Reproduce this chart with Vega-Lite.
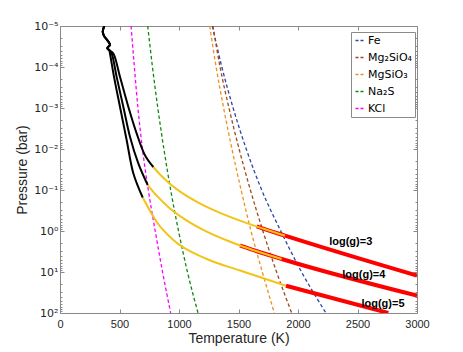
{
  "$schema": "https://vega.github.io/schema/vega-lite/v6.json",
  "width": 357,
  "height": 287,
  "autosize": {"type": "none"},
  "padding": {"left": 60, "top": 26, "right": 46, "bottom": 39},
  "background": "white",
  "config": {
    "font": "Liberation Sans",
    "view": {"stroke": null},
    "axis": {"grid": false, "domainColor": "#8a8a8a", "tickColor": "#8a8a8a", "labelColor": "#262626", "titleColor": "#262626", "labelFont": "Liberation Sans", "titleFont": "Liberation Sans", "titleFontWeight": "normal"}
  },
  "datasets": {
    "cond": [
      {"species": "Fe", "T": 1280, "P": 1e-5}, {"species": "Fe", "T": 1360, "P": 1e-4}, {"species": "Fe", "T": 1455, "P": 1e-3}, {"species": "Fe", "T": 1565, "P": 1e-2}, {"species": "Fe", "T": 1695, "P": 0.1}, {"species": "Fe", "T": 1855, "P": 1}, {"species": "Fe", "T": 2030, "P": 10}, {"species": "Fe", "T": 2235, "P": 100},
      {"species": "Mg₂SiO₄", "T": 1285, "P": 1e-5}, {"species": "Mg₂SiO₄", "T": 1345, "P": 1e-4}, {"species": "Mg₂SiO₄", "T": 1420, "P": 1e-3}, {"species": "Mg₂SiO₄", "T": 1505, "P": 1e-2}, {"species": "Mg₂SiO₄", "T": 1600, "P": 0.1}, {"species": "Mg₂SiO₄", "T": 1705, "P": 1}, {"species": "Mg₂SiO₄", "T": 1820, "P": 10}, {"species": "Mg₂SiO₄", "T": 1947, "P": 100},
      {"species": "MgSiO₃", "T": 1258, "P": 1e-5}, {"species": "MgSiO₃", "T": 1312, "P": 1e-4}, {"species": "MgSiO₃", "T": 1375, "P": 1e-3}, {"species": "MgSiO₃", "T": 1445, "P": 1e-2}, {"species": "MgSiO₃", "T": 1522, "P": 0.1}, {"species": "MgSiO₃", "T": 1605, "P": 1}, {"species": "MgSiO₃", "T": 1700, "P": 10}, {"species": "MgSiO₃", "T": 1801, "P": 100},
      {"species": "Na₂S", "T": 737, "P": 1e-5}, {"species": "Na₂S", "T": 777, "P": 1e-4}, {"species": "Na₂S", "T": 822, "P": 1e-3}, {"species": "Na₂S", "T": 873, "P": 1e-2}, {"species": "Na₂S", "T": 930, "P": 0.1}, {"species": "Na₂S", "T": 996, "P": 1}, {"species": "Na₂S", "T": 1071, "P": 10}, {"species": "Na₂S", "T": 1160, "P": 100},
      {"species": "KCl", "T": 597, "P": 1e-5}, {"species": "KCl", "T": 625, "P": 1e-4}, {"species": "KCl", "T": 655, "P": 1e-3}, {"species": "KCl", "T": 693, "P": 1e-2}, {"species": "KCl", "T": 742, "P": 0.1}, {"species": "KCl", "T": 800, "P": 1}, {"species": "KCl", "T": 862, "P": 10}, {"species": "KCl", "T": 930, "P": 100}
    ],
    "prof": [
      {"g": "3", "seg": "black", "i": 0, "T": 372, "P": 1e-5}, {"g": "3", "seg": "black", "i": 1, "T": 359, "P": 1.38e-5}, {"g": "3", "seg": "black", "i": 2, "T": 370, "P": 1.738e-5}, {"g": "3", "seg": "black", "i": 3, "T": 406, "P": 2.399e-5}, {"g": "3", "seg": "black", "i": 4, "T": 420, "P": 2.884e-5}, {"g": "3", "seg": "black", "i": 5, "T": 398, "P": 3.467e-5}, {"g": "3", "seg": "black", "i": 6, "T": 414, "P": 3.89e-5},
      {"g": "3", "seg": "black", "i": 7, "T": 448, "P": 4.677e-5}, {"g": "3", "seg": "black", "i": 8, "T": 504, "P": 1.738e-4}, {"g": "3", "seg": "black", "i": 9, "T": 574, "P": 9.333e-4}, {"g": "3", "seg": "black", "i": 10, "T": 644, "P": 4.169e-3}, {"g": "3", "seg": "black", "i": 11, "T": 714, "P": 0.01413}, {"g": "3", "seg": "black", "i": 12, "T": 784, "P": 0.02748},
      {"g": "4", "seg": "black", "i": 0, "T": 372, "P": 1e-5}, {"g": "4", "seg": "black", "i": 1, "T": 359, "P": 1.38e-5}, {"g": "4", "seg": "black", "i": 2, "T": 370, "P": 1.738e-5}, {"g": "4", "seg": "black", "i": 3, "T": 406, "P": 2.399e-5}, {"g": "4", "seg": "black", "i": 4, "T": 420, "P": 2.884e-5}, {"g": "4", "seg": "black", "i": 5, "T": 398, "P": 3.467e-5}, {"g": "4", "seg": "black", "i": 6, "T": 414, "P": 3.89e-5},
      {"g": "4", "seg": "black", "i": 7, "T": 434, "P": 4.677e-5}, {"g": "4", "seg": "black", "i": 8, "T": 476, "P": 1.738e-4}, {"g": "4", "seg": "black", "i": 9, "T": 532, "P": 9.333e-4}, {"g": "4", "seg": "black", "i": 10, "T": 588, "P": 5.012e-3}, {"g": "4", "seg": "black", "i": 11, "T": 658, "P": 0.02239}, {"g": "4", "seg": "black", "i": 12, "T": 737, "P": 0.07551},
      {"g": "5", "seg": "black", "i": 0, "T": 372, "P": 1e-5}, {"g": "5", "seg": "black", "i": 1, "T": 359, "P": 1.38e-5}, {"g": "5", "seg": "black", "i": 2, "T": 370, "P": 1.738e-5}, {"g": "5", "seg": "black", "i": 3, "T": 406, "P": 2.399e-5}, {"g": "5", "seg": "black", "i": 4, "T": 420, "P": 2.884e-5}, {"g": "5", "seg": "black", "i": 5, "T": 398, "P": 3.467e-5}, {"g": "5", "seg": "black", "i": 6, "T": 414, "P": 3.89e-5},
      {"g": "5", "seg": "black", "i": 7, "T": 420, "P": 4.677e-5}, {"g": "5", "seg": "black", "i": 8, "T": 454, "P": 1.738e-4}, {"g": "5", "seg": "black", "i": 9, "T": 504, "P": 9.333e-4}, {"g": "5", "seg": "black", "i": 10, "T": 560, "P": 6.026e-3}, {"g": "5", "seg": "black", "i": 11, "T": 616, "P": 0.0389}, {"g": "5", "seg": "black", "i": 12, "T": 695, "P": 0.1524},
      {"g": "3", "seg": "yellow", "i": 0, "T": 784, "P": 0.02748}, {"g": "3", "seg": "yellow", "i": 1, "T": 851, "P": 0.04508}, {"g": "3", "seg": "yellow", "i": 2, "T": 918, "P": 0.06823}, {"g": "3", "seg": "yellow", "i": 3, "T": 1019, "P": 0.1146}, {"g": "3", "seg": "yellow", "i": 4, "T": 1162, "P": 0.2028}, {"g": "3", "seg": "yellow", "i": 5, "T": 1330, "P": 0.3459}, {"g": "3", "seg": "yellow", "i": 6, "T": 1540, "P": 0.597}, {"g": "3", "seg": "yellow", "i": 7, "T": 1750, "P": 0.9616}, {"g": "3", "seg": "yellow", "i": 8, "T": 1891, "P": 1.303},
      {"g": "4", "seg": "yellow", "i": 0, "T": 737, "P": 0.07551}, {"g": "4", "seg": "yellow", "i": 1, "T": 813, "P": 0.1377}, {"g": "4", "seg": "yellow", "i": 2, "T": 905, "P": 0.2512}, {"g": "4", "seg": "yellow", "i": 3, "T": 1031, "P": 0.4797}, {"g": "4", "seg": "yellow", "i": 4, "T": 1199, "P": 0.929}, {"g": "4", "seg": "yellow", "i": 5, "T": 1409, "P": 1.734}, {"g": "4", "seg": "yellow", "i": 6, "T": 1513, "P": 2.259}, {"g": "4", "seg": "yellow", "i": 7, "T": 1661, "P": 3.162}, {"g": "4", "seg": "yellow", "i": 8, "T": 1863, "P": 4.819},
      {"g": "5", "seg": "yellow", "i": 0, "T": 695, "P": 0.1524}, {"g": "5", "seg": "yellow", "i": 1, "T": 813, "P": 0.6026}, {"g": "5", "seg": "yellow", "i": 2, "T": 952, "P": 1.66}, {"g": "5", "seg": "yellow", "i": 3, "T": 1233, "P": 4.819}, {"g": "5", "seg": "yellow", "i": 4, "T": 1513, "P": 9.183}, {"g": "5", "seg": "yellow", "i": 5, "T": 1899, "P": 21.58},
      {"g": "3", "seg": "red", "i": 0, "T": 1653, "P": 0.7727}, {"g": "3", "seg": "red", "i": 1, "T": 1750, "P": 0.9616}, {"g": "3", "seg": "red", "i": 2, "T": 1891, "P": 1.303}, {"g": "3", "seg": "red", "i": 3, "T": 3000, "P": 12.3},
      {"g": "4", "seg": "red", "i": 0, "T": 1513, "P": 2.259}, {"g": "4", "seg": "red", "i": 1, "T": 1661, "P": 3.162}, {"g": "4", "seg": "red", "i": 2, "T": 1863, "P": 4.819}, {"g": "4", "seg": "red", "i": 3, "T": 3000, "P": 37.76},
      {"g": "5", "seg": "red", "i": 0, "T": 1899, "P": 21.58}, {"g": "5", "seg": "red", "i": 1, "T": 2759, "P": 100}
    ],
    "labels": [
      {"text": "log(g)=3", "T": 2443, "P": 1.85},
      {"text": "log(g)=4", "T": 2553, "P": 11.7},
      {"text": "log(g)=5", "T": 2714, "P": 60.3}
    ]
  },
  "layer": [
    {
      "data": {"name": "cond"},
      "mark": {"type": "line", "strokeDash": [3.5, 2.5], "strokeWidth": 1.3, "clip": true, "interpolate": "monotone"},
      "encoding": {
        "x": {"field": "T", "type": "quantitative", "scale": {"domain": [0, 3000], "nice": false, "zero": false},
          "axis": {"orient": "bottom", "values": [0, 500, 1000, 1500, 2000, 2500, 3000], "format": "d", "labelFlush": false, "tickSize": -4, "labelPadding": 9, "labelFontSize": 11, "title": "Temperature (K)", "titleFontSize": 14, "titleY": 18, "titleBaseline": "top"}},
        "y": {"field": "P", "type": "quantitative", "scale": {"type": "log", "domain": [1e-5, 100], "reverse": true, "nice": false},
          "axis": {"orient": "left",
            "values": [1e-5, 2e-5, 3e-5, 4e-5, 5e-5, 6e-5, 7e-5, 8e-5, 9e-5, 1e-4, 2e-4, 3e-4, 4e-4, 5e-4, 6e-4, 7e-4, 8e-4, 9e-4, 1e-3, 2e-3, 3e-3, 4e-3, 5e-3, 6e-3, 7e-3, 8e-3, 9e-3, 0.01, 0.02, 0.03, 0.04, 0.05, 0.06, 0.07, 0.08, 0.09, 0.1, 0.2, 0.3, 0.4, 0.5, 0.6, 0.7, 0.8, 0.9, 1, 2, 3, 4, 5, 6, 7, 8, 9, 10, 20, 30, 40, 50, 60, 70, 80, 90, 100],
            "labelExpr": "abs(log(datum.value)/LN10 - round(log(datum.value)/LN10)) > 0.001 ? '' : ['10⁻⁵','10⁻⁴','10⁻³','10⁻²','10⁻¹','10⁰','10¹','10²'][round(log(datum.value)/LN10)+5]",
            "tickSize": {"condition": {"test": "abs(log(datum.value)/LN10 - round(log(datum.value)/LN10)) < 0.001", "value": -4}, "value": -2},
            "labelPadding": 6, "labelFont": "DejaVu Sans", "labelFontSize": 11, "labelOverlap": false, "labelFlush": false,
            "title": "Pressure (bar)", "titleFontSize": 14, "titleX": -38, "titleBaseline": "middle"}},
        "color": {"field": "species", "type": "nominal",
          "scale": {"domain": ["Fe", "Mg₂SiO₄", "MgSiO₃", "Na₂S", "KCl"], "range": ["#2a44a8", "#9c4a1e", "#ee9020", "#118811", "#ff00ff"]},
          "legend": {"orient": "none", "legendX": 291, "legendY": 6, "title": null, "strokeColor": "#8a8a8a", "fillColor": "white", "padding": 3,
            "symbolType": "stroke", "symbolSize": 64, "symbolStrokeWidth": 1.4, "symbolDash": [3, 2], "labelFont": "DejaVu Sans", "labelFontSize": 11, "labelColor": "#000000", "rowPadding": 5, "labelOffset": 3}}
      }
    },
    {
      "data": {"name": "prof"},
      "transform": [{"filter": "datum.seg == 'red'"}],
      "mark": {"type": "line", "color": "#ff0000", "strokeWidth": 4, "clip": true, "interpolate": "monotone"},
      "encoding": {
        "x": {"field": "T", "type": "quantitative", "axis": {"orient": "top", "values": [0, 500, 1000, 1500, 2000, 2500, 3000], "tickSize": -4, "labels": false, "title": null}},
        "y": {"field": "P", "type": "quantitative",
          "axis": {"orient": "right",
            "values": [1e-5, 2e-5, 3e-5, 4e-5, 5e-5, 6e-5, 7e-5, 8e-5, 9e-5, 1e-4, 2e-4, 3e-4, 4e-4, 5e-4, 6e-4, 7e-4, 8e-4, 9e-4, 1e-3, 2e-3, 3e-3, 4e-3, 5e-3, 6e-3, 7e-3, 8e-3, 9e-3, 0.01, 0.02, 0.03, 0.04, 0.05, 0.06, 0.07, 0.08, 0.09, 0.1, 0.2, 0.3, 0.4, 0.5, 0.6, 0.7, 0.8, 0.9, 1, 2, 3, 4, 5, 6, 7, 8, 9, 10, 20, 30, 40, 50, 60, 70, 80, 90, 100],
            "tickSize": {"condition": {"test": "abs(log(datum.value)/LN10 - round(log(datum.value)/LN10)) < 0.001", "value": -4}, "value": -2},
            "labels": false, "title": null}},
        "detail": {"field": "g"},
        "order": {"field": "i"}
      }
    },
    {
      "data": {"name": "prof"},
      "transform": [{"filter": "datum.seg == 'yellow'"}],
      "mark": {"type": "line", "color": "#f2c41a", "strokeWidth": 2, "clip": true, "interpolate": "monotone"},
      "encoding": {
        "x": {"field": "T", "type": "quantitative", "axis": null},
        "y": {"field": "P", "type": "quantitative", "axis": null},
        "detail": {"field": "g"},
        "order": {"field": "i"}
      }
    },
    {
      "data": {"name": "prof"},
      "transform": [{"filter": "datum.seg == 'black'"}],
      "mark": {"type": "line", "color": "#000000", "strokeWidth": 2, "clip": true, "interpolate": "catmull-rom"},
      "encoding": {
        "x": {"field": "T", "type": "quantitative", "axis": null},
        "y": {"field": "P", "type": "quantitative", "axis": null},
        "detail": {"field": "g"},
        "order": {"field": "i"}
      }
    },
    {
      "data": {"name": "labels"},
      "mark": {"type": "text", "font": "Liberation Sans", "fontSize": 11, "fontWeight": "bold", "color": "#000000", "baseline": "middle", "align": "center"},
      "encoding": {
        "x": {"field": "T", "type": "quantitative", "axis": null},
        "y": {"field": "P", "type": "quantitative", "axis": null},
        "text": {"field": "text"}
      }
    }
  ],
  "resolve": {"axis": {"x": "independent", "y": "independent"}}
}
